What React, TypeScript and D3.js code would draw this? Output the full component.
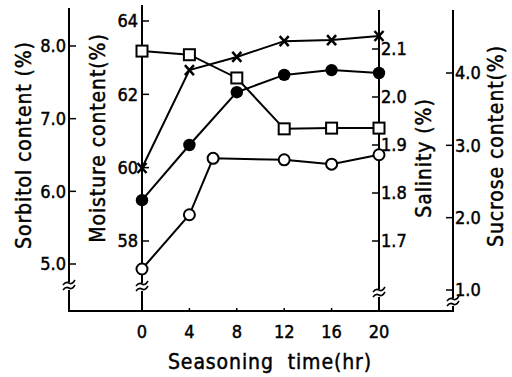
import React from "react";
import * as d3 from "d3";

const hours = [0, 4, 8, 12, 16, 20];
const sucroseHours = [0, 4, 6, 12, 16, 20];
const sorbitol = [7.93, 7.88, 7.56, 6.86, 6.87, 6.87]; // squares
const moisture = [59.99, 62.66, 63.02, 63.45, 63.48, 63.59]; // crosses
const salinity = [1.785, 1.9, 2.01, 2.046, 2.056, 2.05]; // filled circles
const sucrose = [1.29, 2.04, 2.82, 2.8, 2.74, 2.87]; // open circles

const xTicks = [0, 4, 8, 12, 16, 20];
const sorbitolTicks = [5.0, 6.0, 7.0, 8.0];
const moistureTicks = [58, 60, 62, 64];
const salinityTicks = [1.7, 1.8, 1.9, 2.0, 2.1];
const sucroseTicks = [1.0, 2.0, 3.0, 4.0];

const FONT = "'DejaVu Sans Condensed', 'Liberation Sans Narrow', 'DejaVu Sans', sans-serif";

export default function App() {
  const x = d3.scaleLinear().domain([0, 20]).range([142, 379]);
  const ySorb = d3.scaleLinear().domain([5, 8]).range([264, 46]);
  const yMoist = d3.scaleLinear().domain([58, 64]).range([241, 21]);
  const ySal = d3.scaleLinear().domain([1.7, 2.1]).range([241, 49]);
  const ySuc = d3.scaleLinear().domain([1, 4]).range([290, 73]);

  const baseY = 311;
  const axSorbX = 69;
  const axMoistX = x(0);
  const axSalX = x(20);
  const axSucX = 453;

  const line = d3.line<[number, number]>().x((d) => d[0]).y((d) => d[1]);

  const sqPts: [number, number][] = hours.map((h, i) => [x(h), ySorb(sorbitol[i])]);
  const xPts: [number, number][] = hours.map((h, i) => [x(h), yMoist(moisture[i])]);
  const fPts: [number, number][] = hours.map((h, i) => [x(h), ySal(salinity[i])]);
  const oPts: [number, number][] = sucroseHours.map((h, i) => [x(h), ySuc(sucrose[i])]);

  const brk = (cx: number, cy: number, key: string) => (
    <g key={key} stroke="#000" strokeWidth={1.6} fill="none">
      <rect x={cx - 1.5} y={cy - 4} width={3} height={8} fill="#fff" stroke="none" />
      <path d={`M${cx - 6},${cy - 1} q3,-4 6,-2 q3,2 6,-3`} />
      <path d={`M${cx - 6},${cy + 4} q3,-4 6,-2 q3,2 6,-3`} />
    </g>
  );

  const tickFS = 18;
  const titleFS = 21;
  const titleLS = 0.9;
  const txtStroke = { stroke: "#000", strokeWidth: 0.45 };

  return (
    <svg width={512} height={377} style={{ position: "absolute", left: 0, top: 0, background: "#fff" }} fontFamily={FONT}>
      <rect width={512} height={377} fill="#fff" />
      {/* axes */}
      <g stroke="#000" strokeWidth={2} fill="none">
        <line x1={axSorbX} y1={8} x2={axSorbX} y2={baseY} />
        <line x1={axMoistX} y1={5} x2={axMoistX} y2={baseY} />
        <line x1={axSalX} y1={10} x2={axSalX} y2={baseY} />
        <line x1={axSucX} y1={10} x2={axSucX} y2={baseY} />
        <line x1={axSorbX - 1} y1={baseY} x2={axSucX + 1} y2={baseY} />
      </g>
      <g {...txtStroke}>
        {/* x ticks */}
        {xTicks.map((t) => (
          <g key={"xt" + t}>
            {t !== 0 && t !== 20 && (
              <line x1={x(t)} x2={x(t)} y1={baseY} y2={baseY - 3} stroke="#000" strokeWidth={1.5} />
            )}
            <text x={x(t)} y={baseY + 27} fontSize={tickFS} textAnchor="middle">{t}</text>
          </g>
        ))}
        <text x={270} y={369} fontSize={titleFS} letterSpacing={titleLS} textAnchor="middle" style={{ whiteSpace: "pre" }}>Seasoning  time(hr)</text>

        {/* sorbitol axis */}
        {sorbitolTicks.map((t) => (
          <g key={"so" + t}>
            <line x1={axSorbX} x2={axSorbX + 7} y1={ySorb(t)} y2={ySorb(t)} stroke="#000" strokeWidth={1.5} />
            <text x={axSorbX - 3} y={ySorb(t)} dy="0.36em" fontSize={tickFS} textAnchor="end">{t.toFixed(1)}</text>
          </g>
        ))}
        <text transform={`translate(31,145) rotate(-90)`} fontSize={titleFS} letterSpacing={titleLS} textAnchor="middle">Sorbitol content (%)</text>

        {/* moisture axis */}
        {moistureTicks.map((t) => (
          <g key={"mo" + t}>
            <line x1={axMoistX} x2={axMoistX + 7} y1={yMoist(t)} y2={yMoist(t)} stroke="#000" strokeWidth={1.5} />
            <text x={axMoistX - 4} y={yMoist(t)} dy="0.36em" fontSize={tickFS} textAnchor="end">{t}</text>
          </g>
        ))}
        <text transform={`translate(105,138) rotate(-90)`} fontSize={titleFS} letterSpacing={titleLS} textAnchor="middle">Moisture content(%)</text>

        {/* salinity axis */}
        {salinityTicks.map((t) => (
          <g key={"sa" + t}>
            <line x1={axSalX - 7} x2={axSalX} y1={ySal(t)} y2={ySal(t)} stroke="#000" strokeWidth={1.5} />
            <text x={axSalX + 2} y={ySal(t)} dy="0.36em" fontSize={tickFS} textAnchor="start">{t.toFixed(1)}</text>
          </g>
        ))}
        <text transform={`translate(431,158) rotate(-90)`} fontSize={titleFS} letterSpacing={titleLS} textAnchor="middle">Salinity (%)</text>

        {/* sucrose axis */}
        {sucroseTicks.map((t) => (
          <g key={"su" + t}>
            <line x1={axSucX - 7} x2={axSucX} y1={ySuc(t)} y2={ySuc(t)} stroke="#000" strokeWidth={1.5} />
            <text x={axSucX + 2} y={ySuc(t)} dy="0.36em" fontSize={tickFS} textAnchor="start">{t.toFixed(1)}</text>
          </g>
        ))}
        <text transform={`translate(503,146) rotate(-90)`} fontSize={titleFS} letterSpacing={titleLS} textAnchor="middle">Sucrose content(%)</text>
      </g>

      {/* breaks */}
      {brk(axSorbX, 286, "b1")}
      {brk(axMoistX, 287, "b2")}
      {brk(axSalX, 293, "b3")}
      {brk(axSucX, 302, "b4")}

      {/* lines */}
      <g stroke="#000" strokeWidth={2} fill="none">
        <path d={line(sqPts) || ""} />
        <path d={line(xPts) || ""} />
        <path d={line(fPts) || ""} />
        <path d={line(oPts) || ""} />
      </g>

      {/* markers */}
      {sqPts.map((p, i) => (
        <rect key={"sq" + i} x={p[0] - 5.5} y={p[1] - 5.5} width={11} height={11} fill="#fff" stroke="#000" strokeWidth={2} />
      ))}
      {oPts.map((p, i) => (
        <circle key={"oc" + i} cx={p[0]} cy={p[1]} r={5.5} fill="#fff" stroke="#000" strokeWidth={2} />
      ))}
      {fPts.map((p, i) => (
        <circle key={"fc" + i} cx={p[0]} cy={p[1]} r={6.2} fill="#000" />
      ))}
      {xPts.map((p, i) => (
        <g key={"xm" + i} stroke="#000" strokeWidth={2.5}>
          <line x1={p[0] - 4.5} y1={p[1] - 5} x2={p[0] + 4.5} y2={p[1] + 5} />
          <line x1={p[0] + 4.5} y1={p[1] - 5} x2={p[0] - 4.5} y2={p[1] + 5} />
        </g>
      ))}
    </svg>
  );
}
